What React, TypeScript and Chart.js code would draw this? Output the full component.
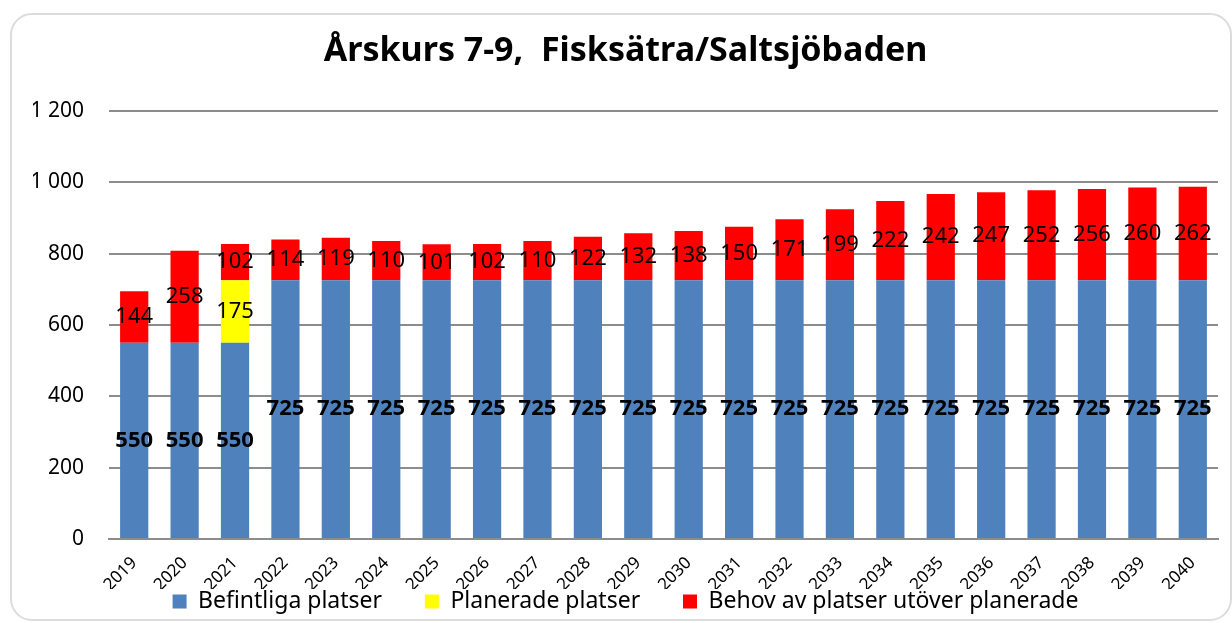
import React, { useEffect, useRef } from "react";
import { Chart, registerables } from "chart.js";

Chart.register(...registerables);

const titleText = "Årskurs 7-9,  Fisksätra/Saltsjöbaden";

const years = [
  "2019", "2020", "2021", "2022", "2023", "2024", "2025", "2026", "2027", "2028", "2029",
  "2030", "2031", "2032", "2033", "2034", "2035", "2036", "2037", "2038", "2039", "2040",
];

const befintliga = [
  550, 550, 550, 725, 725, 725, 725, 725, 725, 725, 725,
  725, 725, 725, 725, 725, 725, 725, 725, 725, 725, 725,
];

const planerade = [
  0, 0, 175, 0, 0, 0, 0, 0, 0, 0, 0,
  0, 0, 0, 0, 0, 0, 0, 0, 0, 0, 0,
];

const behov = [
  144, 258, 102, 114, 119, 110, 101, 102, 110, 122, 132,
  138, 150, 171, 199, 222, 242, 247, 252, 256, 260, 262,
];

const seriesNames = ["Befintliga platser", "Planerade platser", "Behov av platser utöver planerade"];
const seriesColors = ["#4F81BD", "#FFFF00", "#FF0000"];

const yMin = 0;
const yMax = 1200;
const yStep = 200;

const FONT = "'Noto Sans', 'Open Sans', sans-serif";

function formatThousands(v: number): string {
  if (v >= 1000) {
    const th = Math.floor(v / 1000);
    const rest = String(v % 1000).padStart(3, "0");
    return `${th} ${rest}`;
  }
  return String(v);
}

const barLabelPlugin = {
  id: "barLabels",
  afterDatasetsDraw(chart: any) {
    const ctx = chart.ctx;
    chart.data.datasets.forEach((ds: any, di: number) => {
      const meta = chart.getDatasetMeta(di);
      if (meta.hidden) return;
      meta.data.forEach((el: any, i: number) => {
        const v = ds.data[i];
        if (!v) return;
        const { x, y, base } = el.getProps(["x", "y", "base"], true);
        ctx.save();
        ctx.font = `${di === 0 ? "bold " : ""}22px ${FONT}`;
        ctx.fillStyle = "#000";
        ctx.textAlign = "center";
        ctx.textBaseline = "middle";
        ctx.fillText(String(v), x, (y + base) / 2);
        ctx.restore();
      });
    });
  },
};

export default function App() {
  const canvasRef = useRef<HTMLCanvasElement | null>(null);

  useEffect(() => {
    if (!canvasRef.current) return;
    const datasets = [befintliga, planerade, behov].map((d, i) => ({
      label: seriesNames[i],
      data: d,
      backgroundColor: seriesColors[i],
      borderWidth: 0,
      categoryPercentage: 1,
      barPercentage: 0.56,
    }));

    const defaultGen = (Chart as any).defaults.plugins.legend.labels.generateLabels;

    const chart = new Chart(canvasRef.current, {
      type: "bar",
      data: { labels: years, datasets },
      plugins: [barLabelPlugin],
      options: {
        responsive: false,
        animation: false,
        devicePixelRatio: 1,
        layout: { padding: { left: 33, right: 14, top: 0, bottom: 0 } },
        plugins: {
          title: {
            display: true,
            text: titleText,
            color: "#000",
            font: { family: FONT, size: 34, weight: "bold" },
            padding: { top: 31, bottom: 39 },
          },
          legend: {
            display: true,
            position: "bottom",
            labels: {
              color: "#000",
              font: { family: FONT, size: 23 },
              boxWidth: 14,
              boxHeight: 14,
              padding: 1,
              generateLabels: (chart: any) => {
                const items = defaultGen(chart);
                return items.map((it: any, idx: number) => ({
                  ...it,
                  text: idx < items.length - 1 ? it.text + "       " : it.text,
                }));
              },
            },
          },
          tooltip: { enabled: false },
        },
        scales: {
          x: {
            stacked: true,
            grid: { display: false, drawTicks: false },
            border: { display: true, color: "#8c8c8c", width: 2 },
            ticks: {
              color: "#000",
              font: { family: FONT, size: 17 },
              minRotation: 45,
              maxRotation: 45,
              padding: 14,
              autoSkip: false,
            },
            afterFit(scale: any) {
              scale.height = 50;
            },
          },
          y: {
            stacked: true,
            min: yMin,
            max: yMax,
            grid: { color: "#8c8c8c", lineWidth: 2, drawTicks: false, tickLength: 0 },
            border: { display: false },
            ticks: {
              stepSize: yStep,
              color: "#000",
              font: { family: FONT, size: 21 },
              padding: 25,
              callback: (v: any) => formatThousands(Number(v)),
            },
            afterFit(scale: any) {
              scale.width = 76;
            },
          },
        },
      },
    });
    return () => chart.destroy();
  }, []);

  return (
    <div
      style={{
        position: "fixed",
        left: 0,
        top: 0,
        width: 1232,
        height: 623,
        background: "#fff",
        overflow: "hidden",
      }}
    >
      <div
        style={{
          position: "absolute",
          left: 10,
          top: 13,
          width: 1218,
          height: 604,
          border: "2px solid #dcdcdc",
          borderRadius: 22,
        }}
      />
      <canvas
        ref={canvasRef}
        width={1232}
        height={623}
        style={{ position: "absolute", left: 0, top: 0, display: "block" }}
      />
    </div>
  );
}
